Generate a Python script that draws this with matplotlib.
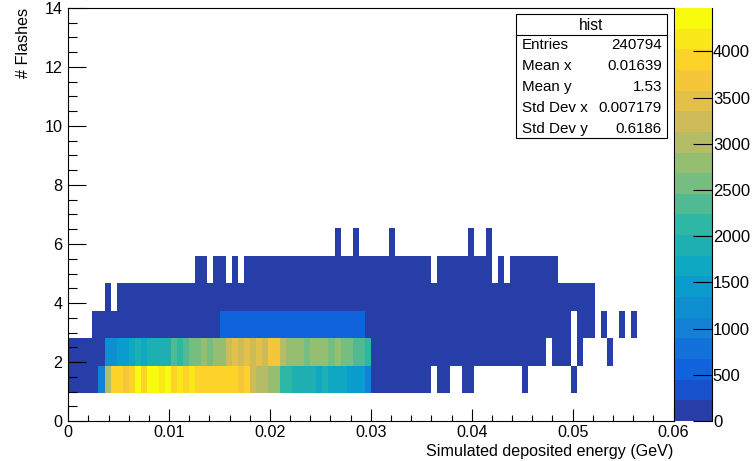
"""ROOT-style COLZ 2D histogram: flashes vs simulated deposited energy."""
import numpy as np
import matplotlib
matplotlib.use("Agg")
import matplotlib.pyplot as plt
from matplotlib.colors import LinearSegmentedColormap, ListedColormap, BoundaryNorm
from matplotlib.patches import Rectangle
from matplotlib.lines import Line2D
from matplotlib.ticker import MultipleLocator, FuncFormatter

plt.rcParams["font.family"] = ["Liberation Sans", "DejaVu Sans"]

# binning: 100 x bins on [0, 0.06], 15 y bins on [0, 14]
x_range = (0.0, 0.06)
n_xbins = 100
y_range = (0.0, 14.0)
n_ybins = 15

# bin contents per y-row (rows 0 and 7..14 are empty)
row1 = [60, 60, 60, 60, 60, 1100, 3100, 3800, 4000, 3700,
        4000, 4400, 4000, 4400, 4400, 4100, 4300, 3900, 4200, 3900,
        4200, 4000, 3800, 3900, 3800, 3900, 3800, 3900, 3600, 3800,
        3200, 3100, 3100, 2900, 2800, 2200, 2200, 2000, 1800, 1900,
        1800, 1700, 1800, 1700, 1600, 1700, 1500, 1500, 1400, 1000,
        60, 60, 60, 60, 60, 60, 60, 60, 60, 60,
        0, 60, 60, 0, 0, 60, 60, 0, 0, 0,
        0, 0, 0, 0, 0, 60, 0, 0, 0, 0,
        0, 0, 0, 60, 0, 0, 0, 0, 0, 0,
        0, 0, 0, 0, 0, 0, 0, 0, 0, 0]
row2 = [60, 60, 60, 60, 60, 60, 1200, 1300, 1500, 1400,
        1600, 1800, 1700, 2000, 1800, 2000, 1900, 2300, 2100, 2300,
        2500, 2600, 2800, 2600, 2900, 2700, 3300, 3500, 3300, 3500,
        3300, 3400, 3300, 3700, 3700, 3000, 2800, 2700, 2700, 2600,
        2900, 2700, 2800, 2600, 2800, 2500, 2600, 2400, 2300, 2100,
        60, 60, 60, 60, 60, 60, 60, 60, 60, 60,
        60, 60, 60, 60, 60, 60, 60, 60, 60, 60,
        60, 60, 60, 60, 60, 60, 60, 60, 60, 0,
        60, 60, 60, 0, 60, 0, 0, 0, 0, 60,
        0, 0, 0, 0, 0, 0, 0, 0, 0, 0]
row3 = [0, 0, 0, 0, 60, 60, 60, 60, 60, 60,
        60, 60, 60, 60, 60, 60, 60, 60, 60, 60,
        60, 60, 60, 60, 60, 500, 500, 500, 500, 500,
        500, 500, 500, 500, 500, 500, 500, 500, 500, 500,
        500, 500, 500, 500, 500, 500, 500, 500, 500, 60,
        60, 60, 60, 60, 60, 60, 60, 60, 60, 60,
        60, 60, 60, 60, 60, 60, 60, 60, 60, 60,
        60, 60, 60, 60, 60, 60, 60, 60, 60, 60,
        60, 60, 60, 0, 60, 60, 60, 0, 60, 0,
        0, 60, 0, 60, 0, 0, 0, 0, 0, 0]
row4 = [0, 0, 0, 0, 0, 0, 60, 0, 60, 60,
        60, 60, 60, 60, 60, 60, 60, 60, 60, 60,
        60, 60, 60, 60, 60, 60, 60, 60, 60, 60,
        60, 60, 60, 60, 60, 60, 60, 60, 60, 60,
        60, 60, 60, 60, 60, 60, 60, 60, 60, 60,
        60, 60, 60, 60, 60, 60, 60, 60, 60, 60,
        60, 60, 60, 60, 60, 60, 60, 60, 60, 60,
        60, 60, 60, 60, 60, 60, 60, 60, 60, 60,
        60, 60, 60, 60, 60, 60, 60, 0, 0, 0,
        0, 0, 0, 0, 0, 0, 0, 0, 0, 0]
row5 = [0, 0, 0, 0, 0, 0, 0, 0, 0, 0,
        0, 0, 0, 0, 0, 0, 0, 0, 0, 0,
        0, 60, 60, 0, 60, 60, 0, 60, 0, 60,
        60, 60, 60, 60, 60, 60, 60, 60, 60, 60,
        60, 60, 60, 60, 60, 60, 60, 60, 60, 60,
        60, 60, 60, 60, 60, 60, 60, 60, 60, 60,
        0, 60, 60, 60, 60, 60, 60, 60, 60, 60,
        0, 60, 0, 60, 60, 60, 60, 60, 60, 60,
        60, 0, 0, 0, 0, 0, 0, 0, 0, 0,
        0, 0, 0, 0, 0, 0, 0, 0, 0, 0]
row6 = [0, 0, 0, 0, 0, 0, 0, 0, 0, 0,
        0, 0, 0, 0, 0, 0, 0, 0, 0, 0,
        0, 0, 0, 0, 0, 0, 0, 0, 0, 0,
        0, 0, 0, 0, 0, 0, 0, 0, 0, 0,
        0, 0, 0, 0, 60, 0, 0, 60, 0, 0,
        0, 0, 0, 60, 0, 0, 0, 0, 0, 0,
        0, 0, 0, 0, 0, 0, 60, 0, 0, 60,
        0, 0, 0, 0, 0, 0, 0, 0, 0, 0,
        0, 0, 0, 0, 0, 0, 0, 0, 0, 0,
        0, 0, 0, 0, 0, 0, 0, 0, 0, 0]

z_max = 4470
n_contours = 20
z_ticks = [0, 500, 1000, 1500, 2000, 2500, 3000, 3500, 4000]

stat_title = "hist"
stat_names = ["Entries", "Mean x", "Mean y", "Std Dev x", "Std Dev y"]
stat_values = ["240794", "0.01639", "1.53", "0.007179", "0.6186"]

# ROOT kBird palette
bird_stops = [0.0, 0.125, 0.25, 0.375, 0.5, 0.625, 0.75, 0.875, 1.0]
bird_r = [0.2082, 0.0592, 0.0780, 0.0232, 0.1802, 0.5301, 0.8186, 0.9956, 0.9764]
bird_g = [0.1664, 0.3599, 0.5041, 0.6419, 0.7178, 0.7492, 0.7328, 0.7862, 0.9832]
bird_b = [0.5293, 0.8684, 0.8385, 0.7914, 0.6425, 0.4662, 0.3499, 0.1968, 0.0539]
bird = LinearSegmentedColormap.from_list(
    "bird", list(zip(bird_stops, zip(bird_r, bird_g, bird_b))))
level_colors = [bird(min((k + 0.99) / n_contours, 1.0)) for k in range(n_contours)]
cmap = ListedColormap(level_colors)
norm = BoundaryNorm(np.linspace(0, z_max, n_contours + 1), n_contours)

W, H = 754, 461
fig = plt.figure(figsize=(W / 100, H / 100), dpi=100)
ax = fig.add_axes([68.2 / W, 40 / H, 605.3 / W, 413 / H])
cax = fig.add_axes([675 / W, 40 / H, 36.5 / W, 413 / H])

counts = np.zeros((n_ybins, n_xbins))
for i, r in enumerate([row1, row2, row3, row4, row5, row6], start=1):
    counts[i] = r
counts = np.ma.masked_where(counts <= 0, counts)
xe = np.linspace(*x_range, n_xbins + 1)
ye = np.linspace(*y_range, n_ybins + 1)
mesh = ax.pcolormesh(xe, ye, counts, cmap=cmap, norm=norm, linewidth=0, antialiased=False)

ax.set_xlim(*x_range)
ax.set_ylim(*y_range)
for s in ax.spines.values():
    s.set_linewidth(0.8)
ax.xaxis.set_major_locator(MultipleLocator(0.01))
ax.xaxis.set_minor_locator(MultipleLocator(0.002))
ax.yaxis.set_major_locator(MultipleLocator(2))
ax.yaxis.set_minor_locator(MultipleLocator(0.5))
ax.xaxis.set_major_formatter(FuncFormatter(lambda v, p: f"{v:g}"))
ax.yaxis.set_major_formatter(FuncFormatter(lambda v, p: f"{v:g}"))
ax.tick_params(axis="x", which="major", direction="in", length=8.9, width=0.8,
               labelsize=11.6, pad=3, top=False)
ax.tick_params(axis="x", which="minor", direction="in", length=4.5, width=0.8, top=False)
ax.tick_params(axis="y", which="major", direction="in", length=13, width=0.8,
               labelsize=11.6, pad=4, right=False)
ax.tick_params(axis="y", which="minor", direction="in", length=6.5, width=0.8, right=False)

fig.text(673.5 / W, (H - 451) / H, "Simulated deposited energy (GeV)",
         ha="right", va="center", fontsize=11.6)
fig.text(24 / W, (H - 8) / H, "# Flashes", ha="center", va="top",
         rotation=90, fontsize=11.6)

cb = fig.colorbar(mesh, cax=cax, ticks=z_ticks)
cb.outline.set_visible(False)
cax.yaxis.set_ticks_position("right")
cax.tick_params(axis="y", which="major", direction="in", length=13.7, width=0.8,
                labelsize=12, pad=1)
cax.minorticks_off()
cax.add_line(Line2D([1, 1], [0, 1], transform=cax.transAxes, color="black",
                    linewidth=0.8, clip_on=False))

# stats box
bx0, bx1, by0, by1 = 515.5, 666.5, 14, 138.5
fig.add_artist(Rectangle((bx0 / W, (H - by1) / H), (bx1 - bx0) / W, (by1 - by0) / H,
                         transform=fig.transFigure, facecolor="white",
                         edgecolor="black", linewidth=0.8))
fig.add_artist(Line2D([bx0 / W, bx1 / W], [(H - 35) / H] * 2,
                      transform=fig.transFigure, color="black", linewidth=0.8))
fig.text((bx0 + bx1) / 2 / W, (H - 25) / H, stat_title, ha="center", va="center",
         fontsize=11.2)
row_y = [45, 66, 87, 108, 128.5]
for name, val, yy in zip(stat_names, stat_values, row_y):
    fig.text(522 / W, (H - yy) / H, name, ha="left", va="center", fontsize=10.9)
    fig.text(662 / W, (H - yy) / H, val, ha="right", va="center", fontsize=10.9)

fig.savefig("out.png", dpi=100)
